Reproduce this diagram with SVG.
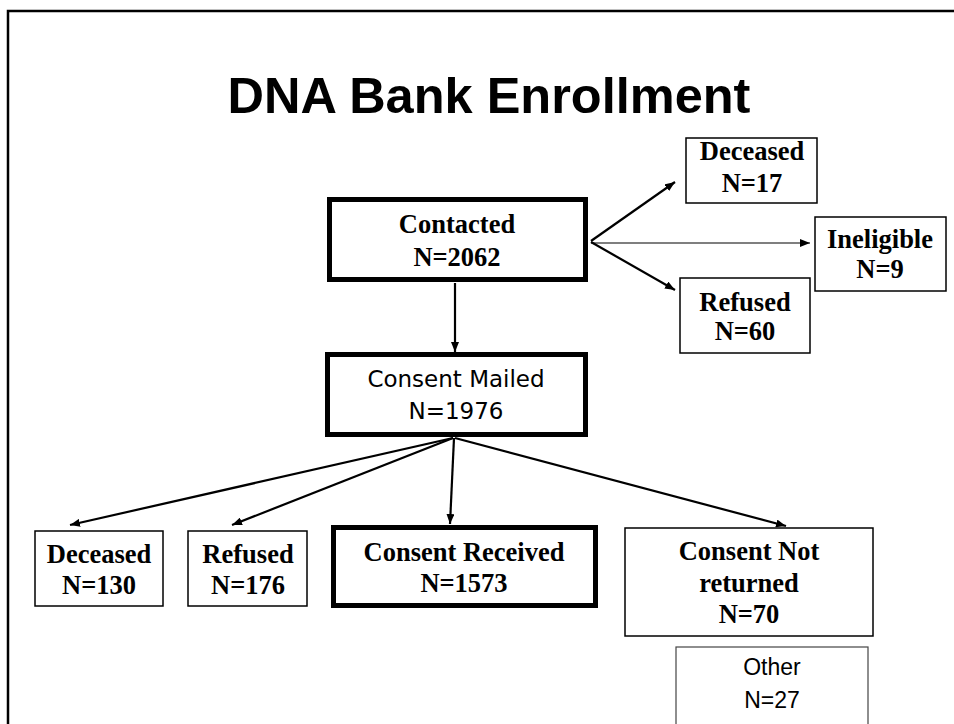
<svg xmlns="http://www.w3.org/2000/svg" width="954" height="724" viewBox="0 0 954 724">
<defs>
<style>
.bx{fill:#fff;stroke:#000;stroke-width:1.5}
.bt{fill:#fff;stroke:#000;stroke-width:5}
.tb{font-family:"Liberation Serif","Times New Roman",serif;font-weight:bold;font-size:26.5px;text-anchor:middle;fill:#000}
.ts{font-family:"DejaVu Sans",Verdana,sans-serif;font-size:23px;text-anchor:middle;fill:#000}
.ta{font-family:"Liberation Sans",Arial,sans-serif;font-size:23px;text-anchor:middle;fill:#000}
.c{fill:none;stroke:#000;stroke-width:2.2}
.c1{fill:none;stroke:#000;stroke-width:1.2}
</style>
<marker id="ah" viewBox="0 0 10 8" refX="10" refY="4" markerWidth="10" markerHeight="8" markerUnits="userSpaceOnUse" orient="auto">
<path d="M0,0 L10,4 L0,8 Z" fill="#000"/>
</marker>
</defs>
<rect width="954" height="724" fill="#fff"/>
<path d="M8,730 L8,11 L960,11" fill="none" stroke="#000" stroke-width="2.5"/>
<text x="489" y="113" font-family="'Liberation Sans',Arial,sans-serif" font-weight="bold" font-size="50.5" text-anchor="middle">DNA Bank Enrollment</text>
<g id="connectors">
<line class="c" x1="455" y1="283" x2="455" y2="352" marker-end="url(#ah)"/>
<line class="c" x1="591" y1="241" x2="675" y2="182" marker-end="url(#ah)"/>
<line class="c1" x1="591" y1="243" x2="810" y2="243" marker-end="url(#ah)"/>
<line class="c" x1="591" y1="242" x2="675" y2="290" marker-end="url(#ah)"/>
<line class="c" x1="453" y1="438" x2="70" y2="525" marker-end="url(#ah)"/>
<line class="c" x1="453" y1="438" x2="232" y2="525" marker-end="url(#ah)"/>
<line class="c" x1="454" y1="438" x2="450" y2="524" marker-end="url(#ah)"/>
<line class="c" x1="455" y1="438" x2="786" y2="526" marker-end="url(#ah)"/>
</g>
<g id="contacted">
<rect class="bt" x="329.5" y="199.5" width="256" height="80"/>
<text class="tb" x="457" y="233">Contacted</text>
<text class="tb" x="457" y="266">N=2062</text>
</g>
<g id="deceased17">
<rect class="bx" x="686" y="138" width="131" height="65"/>
<text class="tb" x="752" y="160">Deceased</text>
<text class="tb" x="752" y="192">N=17</text>
</g>
<g id="ineligible">
<rect class="bx" x="815" y="217" width="131" height="74"/>
<text class="tb" x="880" y="248">Ineligible</text>
<text class="tb" x="880" y="278">N=9</text>
</g>
<g id="refused60">
<rect class="bx" x="680" y="278" width="130" height="75"/>
<text class="tb" x="745" y="311">Refused</text>
<text class="tb" x="745" y="340">N=60</text>
</g>
<g id="mailed">
<rect class="bt" x="327.5" y="354.5" width="258" height="80"/>
<text class="ts" x="456" y="387">Consent Mailed</text>
<text class="ts" x="456" y="419">N=1976</text>
</g>
<g id="deceased130">
<rect class="bx" x="35" y="531" width="128" height="75"/>
<text class="tb" x="99" y="563">Deceased</text>
<text class="tb" x="99" y="594">N=130</text>
</g>
<g id="refused176">
<rect class="bx" x="188" y="531" width="119" height="75"/>
<text class="tb" x="248" y="563">Refused</text>
<text class="tb" x="248" y="594">N=176</text>
</g>
<g id="received">
<rect class="bt" x="333.5" y="527.5" width="262" height="78"/>
<text class="tb" x="464" y="561">Consent Received</text>
<text class="tb" x="464" y="592">N=1573</text>
</g>
<g id="notreturned">
<rect class="bx" x="625" y="528" width="248" height="108"/>
<text class="tb" x="749" y="560">Consent Not</text>
<text class="tb" x="749" y="592">returned</text>
<text class="tb" x="749" y="623">N=70</text>
</g>
<g id="other">
<rect x="676" y="647" width="192" height="90" fill="#fff" stroke="#444" stroke-width="1.2"/>
<text class="ta" x="772" y="675">Other</text>
<text class="ta" x="772" y="708">N=27</text>
</g>
</svg>
